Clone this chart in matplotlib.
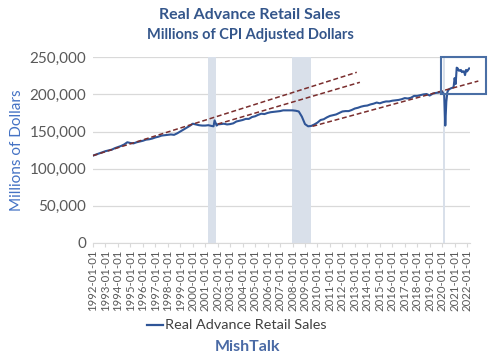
import matplotlib
matplotlib.use("Agg")
import matplotlib.pyplot as plt
from matplotlib.patches import Rectangle
from matplotlib.lines import Line2D

plt.rcParams['font.family'] = ['Lato', 'DejaVu Sans']

# ---- data (millions of CPI-adjusted dollars) ----
dates = [
    "1992-01","1992-04","1992-07","1992-10","1993-01","1993-04","1993-07","1993-10",
    "1994-01","1994-04","1994-07","1994-10","1995-01","1995-04","1995-07","1995-10",
    "1996-01","1996-04","1996-07","1996-10","1997-01","1997-04","1997-07","1997-10",
    "1998-01","1998-04","1998-07","1998-10","1999-01","1999-04","1999-07","1999-10",
    "2000-01","2000-04","2000-07","2000-10","2001-01","2001-04","2001-07","2001-09",
    "2001-10","2001-12","2002-01","2002-04","2002-07","2002-10","2003-01","2003-04",
    "2003-07","2003-10","2004-01","2004-04","2004-07","2004-10","2005-01","2005-04",
    "2005-07","2005-10","2006-01","2006-04","2006-07","2006-10","2007-01","2007-04",
    "2007-07","2007-10","2008-01","2008-04","2008-07","2008-10","2009-01","2009-04",
    "2009-07","2009-10","2010-01","2010-04","2010-07","2010-10","2011-01","2011-04",
    "2011-07","2011-10","2012-01","2012-04","2012-07","2012-10","2013-01","2013-04",
    "2013-07","2013-10","2014-01","2014-04","2014-07","2014-10","2015-01","2015-04",
    "2015-07","2015-10","2016-01","2016-04","2016-07","2016-10","2017-01","2017-04",
    "2017-07","2017-10","2018-01","2018-04","2018-07","2018-10","2019-01","2019-04",
    "2019-07","2019-10","2020-01","2020-03","2020-04","2020-05","2020-06","2020-07",
    "2020-09","2020-11","2020-12","2021-01","2021-02","2021-03","2021-04","2021-05",
    "2021-06","2021-07","2021-08","2021-09","2021-10","2021-11","2021-12","2022-01",
    "2022-02","2022-03",
]
sales = [
    117500,119000,120500,122000,123500,124500,125500,127500,
    129000,130500,132500,135500,134500,134000,135500,136500,
    137500,139000,139500,140500,142000,143000,144500,145000,
    145500,146000,145500,147500,150000,152500,155000,157500,
    160500,159500,158500,158000,158000,158500,157500,157000,
    165000,158000,159500,160000,160500,159500,160000,161000,
    163500,164500,165500,167000,167000,169500,170500,172500,
    174000,173500,175000,176000,176500,177000,177500,178500,
    178500,178500,178500,178000,177000,170000,160000,157000,
    157500,159500,162000,165500,166500,169000,171000,172000,
    173000,175000,177000,177500,177500,179000,181000,182000,
    183500,184500,185000,186500,187500,189000,188000,189500,
    190500,190500,191500,192000,192500,193500,195000,194500,
    195500,198000,198000,199000,200000,200500,198500,201000,
    202000,202500,204000,199000,158000,190000,203000,206000,
    208000,209000,210000,222000,214000,236000,235000,232000,
    232000,233000,230000,231000,231000,226000,233000,231000,
    233000,235000,
]

# dashed trend lines: (start year, end year) and (start value, end value)
trend_x = [(1992.0, 2013.15), (2002.0, 2013.4), (2009.6, 2022.9)]
trend_y = [(117500, 229800), (160000, 216300), (157000, 218000)]

# recession shading periods (decimal years)
recessions = [(2001.22, 2001.86), (2007.96, 2009.48), (2020.08, 2020.25)]

year_ticks = list(range(1992, 2023))
tick_labels = [f"{y}-01-01" for y in year_ticks]
y_ticks = [0, 50000, 100000, 150000, 200000, 250000]


def to_year(s):
    y, m = s.split("-")
    return int(y) + (int(m) - 1) / 12.0


xs = [to_year(d) for d in dates]

W, H = 500, 359
fig = plt.figure(figsize=(W / 100, H / 100), dpi=100)
left, right = 93, 470
top, bottom = 57.3, 242.8
ax = fig.add_axes([left / W, 1 - bottom / H, (right - left) / W, (bottom - top) / H])

px_per_year = 12.47
ax.set_xlim(1992, 1992 + (right - left) / px_per_year)
ax.set_ylim(0, 250000)

for a, b in recessions:
    ax.axvspan(a, b, color='#d9e0ea', lw=0, zorder=1)

ax.set_yticks(y_ticks)
ax.set_yticklabels([f"{v:,}" for v in y_ticks])
ax.yaxis.grid(True, color='#d9d9d9', lw=0.9, zorder=0)
ax.set_axisbelow(True)

ax.plot(xs, sales, color='#2f5597', lw=1.5, zorder=3, solid_joinstyle='round')

for (x0, x1), (y0, y1) in zip(trend_x, trend_y):
    ax.plot([x0, x1], [y0, y1], color='#7a2e2e', lw=1.1, dashes=(3.2, 1.8),
            zorder=4, clip_on=False)

ax.add_patch(Rectangle((2019.9, 200000), 3.58, 50000, fill=False,
                       edgecolor='#4a6fa5', lw=1.5, clip_on=False, zorder=5))

ax.set_xticks(year_ticks)
ax.set_xticklabels(tick_labels, rotation=90, fontsize=8.2, color='#595959')
ax.tick_params(axis='x', length=3, color='#d9d9d9', pad=2)
ax.tick_params(axis='y', length=0, labelsize=11, labelcolor='#595959', pad=5)

for s in ['top', 'right', 'left']:
    ax.spines[s].set_visible(False)
ax.spines['bottom'].set_color('#d9d9d9')

fig.text(250 / W, 1 - 15 / H, "Real Advance Retail Sales", ha='center', va='center',
         fontsize=11.5, fontweight='bold', color='#34568b')
fig.text(250 / W, 1 - 35 / H, "Millions of CPI Adjusted Dollars", ha='center', va='center',
         fontsize=10.5, fontweight='bold', color='#34568b')
fig.text(17 / W, 1 - 150 / H, "Millions of Dollars", ha='center', va='center',
         rotation=90, fontsize=11, color='#4472c4')

fig.add_artist(Line2D([147 / W, 163 / W], [1 - 325 / H, 1 - 325 / H],
                      color='#2f5597', lw=1.6))
fig.text(165 / W, 1 - 325 / H, "Real Advance Retail Sales", ha='left', va='center',
         fontsize=10.4, color='#404040')
fig.text(247 / W, 1 - 347 / H, "MishTalk", ha='center', va='center',
         fontsize=11.5, fontweight='bold', color='#4a6aa5')

fig.savefig("out.png", dpi=100, facecolor='white')
